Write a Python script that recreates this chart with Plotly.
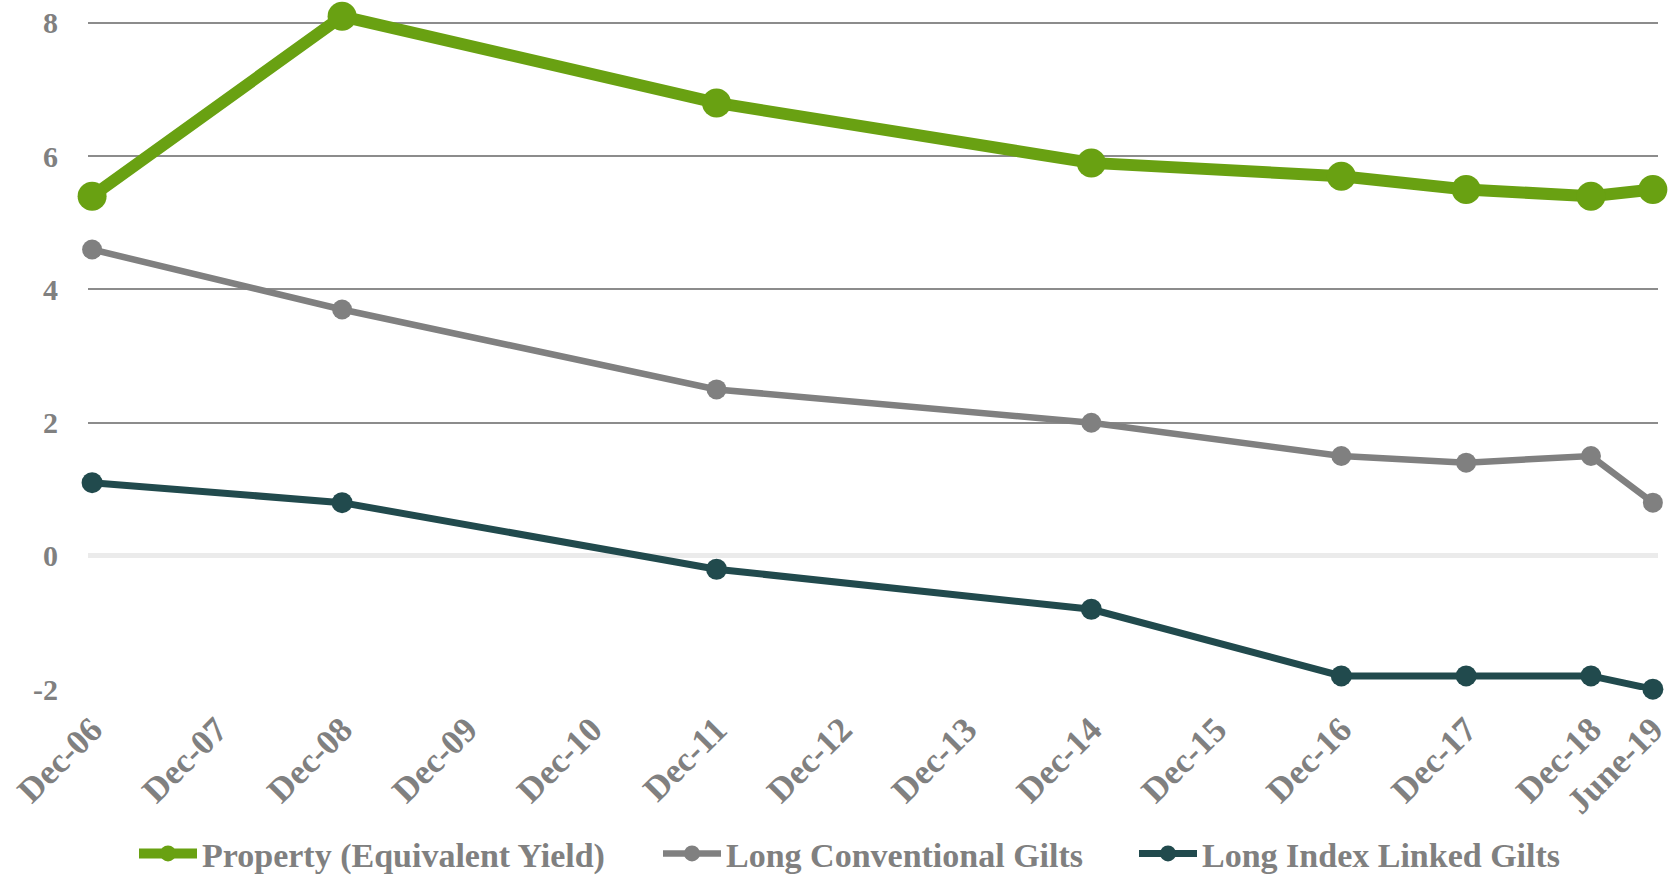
import plotly.graph_objects as go

dates = ["2006-12-31", "2008-12-31", "2011-12-31", "2014-12-31",
         "2016-12-31", "2017-12-31", "2018-12-31", "2019-06-30"]
property_yield = [5.4, 8.1, 6.8, 5.9, 5.7, 5.5, 5.4, 5.5]
long_conventional = [4.6, 3.7, 2.5, 2.0, 1.5, 1.4, 1.5, 0.8]
long_index_linked = [1.1, 0.8, -0.2, -0.8, -1.8, -1.8, -1.8, -2.0]

tick_dates = ["2006-12-31", "2007-12-31", "2008-12-31", "2009-12-31", "2010-12-31",
              "2011-12-31", "2012-12-31", "2013-12-31", "2014-12-31", "2015-12-31",
              "2016-12-31", "2017-12-31", "2018-12-31", "2019-06-30"]
tick_labels = ["Dec-06", "Dec-07", "Dec-08", "Dec-09", "Dec-10", "Dec-11", "Dec-12",
               "Dec-13", "Dec-14", "Dec-15", "Dec-16", "Dec-17", "Dec-18", "June-19"]
y_ticks = [-2, 0, 2, 4, 6, 8]
y_tick_labels = ["-2", "0", "2", "4", "6", "8"]

GREEN = "#69a112"
GRAY = "#808080"
DARK = "#214a4d"
TEXT = "#808080"
FONT = "Liberation Serif"

fig = go.Figure()
fig.add_trace(go.Scatter(x=dates, y=property_yield, mode="lines+markers",
                         name="Property (Equivalent Yield)", cliponaxis=False,
                         line=dict(color=GREEN, width=12),
                         marker=dict(color=GREEN, size=29), legend="legend"))
fig.add_trace(go.Scatter(x=dates, y=long_conventional, mode="lines+markers",
                         name="Long Conventional Gilts", cliponaxis=False,
                         line=dict(color=GRAY, width=6.5),
                         marker=dict(color=GRAY, size=20), legend="legend2"))
fig.add_trace(go.Scatter(x=dates, y=long_index_linked, mode="lines+markers",
                         name="Long Index Linked Gilts", cliponaxis=False,
                         line=dict(color=DARK, width=7),
                         marker=dict(color=DARK, size=21), legend="legend3"))

legend_font = dict(family=FONT, size=34, color=TEXT, weight="bold")
common_legend = dict(orientation="h", yanchor="middle", y=-0.242, xanchor="left",
                     font=legend_font, bgcolor="rgba(0,0,0,0)", borderwidth=0,
                     itemwidth=58)

fig.update_layout(
    width=1671, height=876,
    paper_bgcolor="white", plot_bgcolor="white",
    margin=dict(l=88, r=13, t=13, b=186, autoexpand=False),
    showlegend=True,
    legend=dict(x=(134 - 88) / 1570, **common_legend),
    legend2=dict(x=(658 - 88) / 1570, **common_legend),
    legend3=dict(x=(1134 - 88) / 1570, **common_legend),
    xaxis=dict(type="date", range=["2006-12-19", "2019-07-15"], automargin=False,
               tickvals=tick_dates, ticktext=tick_labels, tickangle=-45,
               ticklabeloverflow="allow",
               showgrid=False, showline=False, zeroline=False,
               ticks="outside", ticklen=4, tickcolor="rgba(0,0,0,0)",
               tickfont=dict(family=FONT, size=35, color=TEXT, weight="bold")),
    yaxis=dict(range=[-2.012, 8.15], automargin=False,
               tickvals=y_ticks, ticktext=y_tick_labels, showgrid=True,
               gridcolor="#8c8c8c", gridwidth=1.5,
               zeroline=True, zerolinecolor="#ebebeb", zerolinewidth=5,
               showline=False,
               ticks="outside", ticklen=23, tickcolor="rgba(0,0,0,0)",
               tickfont=dict(family=FONT, size=30, color=TEXT, weight="bold")),
)

fig.write_html("out.html", config={"displayModeBar": False},
               post_script="document.body.style.margin='0';")
